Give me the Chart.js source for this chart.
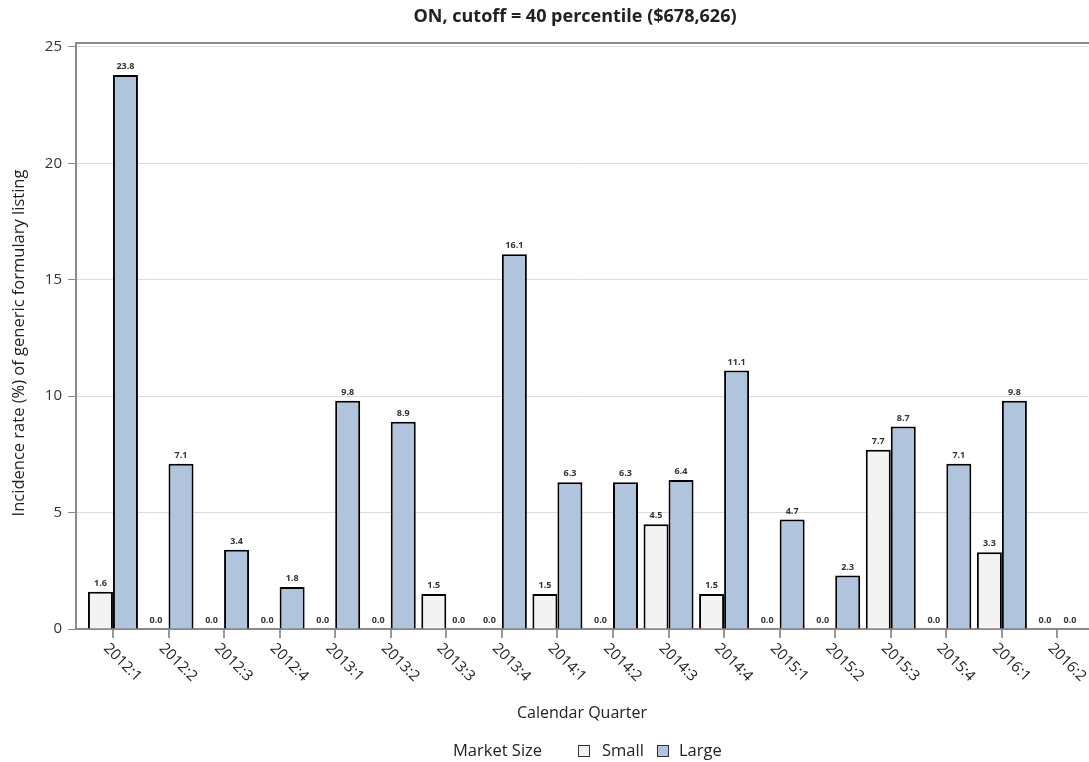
<!DOCTYPE html>
<html>
<head>
<meta charset="utf-8">
<script src="https://cdn.jsdelivr.net/npm/chart.js@4/dist/chart.umd.min.js"></script>
<style>
  html, body { margin: 0; padding: 0; background: #fff; }
  #wrap { width: 1089px; height: 762px; }
</style>
</head>
<body>
<div id="wrap"><canvas id="rates" width="1089" height="762"></canvas></div>
<script>
const quarters = ['2012:1', '2012:2', '2012:3', '2012:4', '2013:1', '2013:2', '2013:3', '2013:4', '2014:1',
    '2014:2', '2014:3', '2014:4', '2015:1', '2015:2', '2015:3', '2015:4', '2016:1', '2016:2'];
const smallRates = [1.6, 0.0, 0.0, 0.0, 0.0, 0.0, 1.5, 0.0, 1.5, 0.0, 4.5, 1.5, 0.0, 0.0, 7.7, 0.0, 3.3, 0.0];
const largeRates = [23.8, 7.1, 3.4, 1.8, 9.8, 8.9, 0.0, 16.1, 6.3, 6.3, 6.4, 11.1, 4.7, 2.3, 8.7, 7.1, 9.8, 0.0];
const yTicks = [0, 5, 10, 15, 20, 25];

const FONT = "'Open Sans', 'Noto Sans', sans-serif";
const TXT = '#222';

// texts that the chart draws itself (title, axis titles, rotated labels, value labels, legend)
const decor = {
    id: 'decor',
    afterDraw(chart) {
        const ctx = chart.ctx;
        const area = chart.chartArea;
        const xs = chart.scales.x;
        ctx.save();

        // frame on top of the plot
        ctx.strokeStyle = '#8a8a8a';
        ctx.lineWidth = 2;
        ctx.beginPath();
        ctx.moveTo(area.left, area.top);
        ctx.lineTo(area.right + 2, area.top);
        ctx.stroke();

        // value labels
        ctx.fillStyle = '#333';
        ctx.font = 'bold 9px ' + FONT;
        ctx.textAlign = 'center';
        ctx.textBaseline = 'bottom';
        chart.data.datasets.forEach((ds, di) => {
            chart.getDatasetMeta(di).data.forEach((bar, i) => {
                ctx.fillText(ds.data[i].y.toFixed(1), bar.x, bar.y - 4);
            });
        });

        // title
        ctx.fillStyle = TXT;
        ctx.font = 'bold 18px ' + FONT;
        ctx.textBaseline = 'middle';
        ctx.fillText('ON, cutoff = 40 percentile ($678,626)', 575, 17);

        // axis titles
        ctx.font = '16px ' + FONT;
        ctx.fillText('Calendar Quarter', (area.left + area.right) / 2, 713);
        ctx.save();
        ctx.translate(19, 343);
        ctx.rotate(-Math.PI / 2);
        ctx.font = '16.5px ' + FONT;
        ctx.fillText('Incidence rate (%) of generic formulary listing', 0, 0);
        ctx.restore();

        // rotated quarter labels
        ctx.font = '15px ' + FONT;
        ctx.textAlign = 'left';
        quarters.forEach((q, i) => {
            const x = xs.getPixelForValue(i);
            ctx.save();
            ctx.translate(x - 7, area.bottom + 17);
            ctx.rotate(Math.PI / 4);
            ctx.fillText(q, 0, 0);
            ctx.restore();
        });

        // legend
        ctx.font = '16.5px ' + FONT;
        ctx.textBaseline = 'middle';
        ctx.fillText('Market Size', 453, 751);
        const items = [[578, 602], [657, 679]];
        chart.data.datasets.forEach((ds, di) => {
            const [bx, tx] = items[di];
            ctx.fillStyle = ds.backgroundColor;
            ctx.fillRect(bx, 745, 12, 12);
            ctx.strokeStyle = '#333';
            ctx.lineWidth = 1;
            ctx.strokeRect(bx + 0.5, 745.5, 11, 11);
            ctx.fillStyle = TXT;
            ctx.fillText(ds.label, tx, 751);
        });
        ctx.restore();
    }
};

new Chart(document.getElementById('rates'), {
    type: 'bar',
    data: {
        datasets: [{
            label: 'Small',
            data: smallRates.map((v, i) => ({ x: i, y: v })),
            backgroundColor: '#f3f3f3',
            borderColor: '#000',
            borderWidth: 2,
            borderSkipped: 'bottom'
        }, {
            label: 'Large',
            data: largeRates.map((v, i) => ({ x: i, y: v })),
            backgroundColor: '#b0c4de',
            borderColor: '#000',
            borderWidth: 2,
            borderSkipped: 'bottom'
        }]
    },
    options: {
        responsive: false,
        animation: false,
        categoryPercentage: 0.9,
        barPercentage: 1.0,
        layout: { padding: { top: 43, right: 1, left: 0, bottom: 0 } },
        scales: {
            x: {
                type: 'linear',
                offset: false,
                min: -0.665,
                max: 17.55,
                afterBuildTicks: (axis) => { axis.ticks = quarters.map((q, i) => ({ value: i })); },
                afterFit: (axis) => { axis.height = 133; },
                ticks: { display: false, includeBounds: false },
                grid: { offset: false, drawOnChartArea: false, drawTicks: true, tickLength: 9, color: '#999', lineWidth: 2 },
                border: { color: '#8a8a8a', width: 2 }
            },
            y: {
                min: 0,
                max: 25.17,
                afterBuildTicks: (axis) => { axis.ticks = yTicks.map(v => ({ value: v })); },
                afterFit: (axis) => { axis.width = 76; },
                ticks: { color: '#333', font: { family: FONT, size: 15 }, padding: 6 },
                grid: { color: '#dcdcdc', lineWidth: 1, tickColor: '#8a8a8a', tickLength: 8 },
                border: { color: '#8a8a8a', width: 2 }
            }
        },
        plugins: {
            legend: { display: false },
            title: { display: false },
            tooltip: { enabled: false }
        }
    },
    plugins: [decor]
});
</script>
</body>
</html>
